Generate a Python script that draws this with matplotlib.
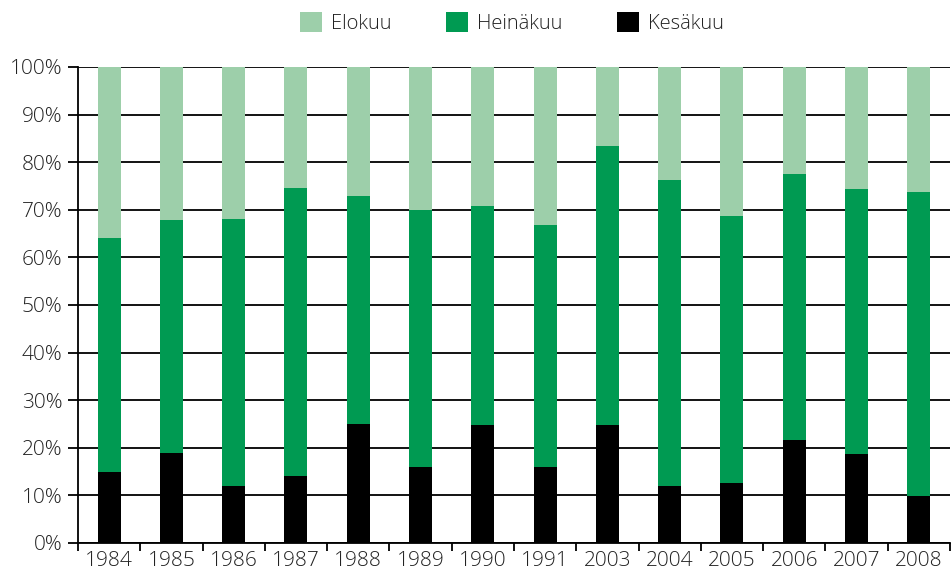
import matplotlib
matplotlib.use("Agg")
import matplotlib.pyplot as plt
import numpy as np
from matplotlib.ticker import FixedLocator, NullFormatter, FuncFormatter

years = ["1984", "1985", "1986", "1987", "1988", "1989", "1990", "1991",
         "2003", "2004", "2005", "2006", "2007", "2008"]
kesakuu = [15.0, 19.0, 12.0, 14.0, 25.0, 16.0, 24.8, 16.0, 24.8, 12.0, 12.7, 21.6, 18.7, 9.9]
heinakuu_cum = [64.1, 67.9, 68.1, 74.6, 72.9, 70.0, 70.8, 66.8, 83.3, 76.3, 68.7, 77.5, 74.4, 73.8]
heinakuu = [h - k for h, k in zip(heinakuu_cum, kesakuu)]
elokuu = [100 - h for h in heinakuu_cum]

plt.rcParams['font.family'] = ['Open Sans', 'DejaVu Sans']
plt.rcParams['font.weight'] = 'light'

fig = plt.figure(figsize=(9.53, 5.72), dpi=100)
ax = fig.add_axes([0.0818, 0.0507, 0.915, 0.8323])

x = np.arange(len(years))
w = 0.37
c_elo = "#9dcfaa"
c_hei = "#009a52"
c_kes = "#000000"

ax.bar(x, kesakuu, w, color=c_kes, label="Kesäkuu", zorder=3)
ax.bar(x, heinakuu, w, bottom=kesakuu, color=c_hei, label="Heinäkuu", zorder=3)
ax.bar(x, elokuu, w, bottom=heinakuu_cum, color=c_elo, label="Elokuu", zorder=3)

ax.set_xlim(-0.5, len(years) - 0.5)
ax.set_ylim(0, 100)
ax.set_yticks(np.arange(0, 101, 10))
ax.yaxis.set_major_formatter(FuncFormatter(lambda v, p: f"{int(v)}%"))
ax.yaxis.grid(True, color="black", linewidth=1.3, zorder=1)

ax.xaxis.set_major_locator(FixedLocator(np.arange(-0.5, len(years), 1.0)))
ax.xaxis.set_major_formatter(NullFormatter())
ax.xaxis.set_minor_locator(FixedLocator(x))
ax.set_xticklabels(years, minor=True)
ax.tick_params(axis='x', which='minor', length=0, pad=6, labelsize=15, labelcolor="#222222")
ax.tick_params(axis='x', which='major', length=6, width=1.3, direction='out', color='black')
ax.tick_params(axis='y', length=7, width=1.3, direction='out', pad=4, labelsize=15, labelcolor="#222222")

for s in ["top", "right"]:
    ax.spines[s].set_visible(False)
for s in ["left", "bottom"]:
    ax.spines[s].set_linewidth(1.3)
    ax.spines[s].set_color("black")

handles, labels = ax.get_legend_handles_labels()
order = [2, 1, 0]
fig.legend([handles[i] for i in order], [labels[i] for i in order],
           loc="upper center", bbox_to_anchor=(0.537, 1.01), ncol=3, frameon=False,
           fontsize=14.5, handlelength=1.1, handleheight=1.1, columnspacing=2.7,
           handletextpad=0.45, labelcolor="#222222")

fig.savefig("out.png", dpi=100)
